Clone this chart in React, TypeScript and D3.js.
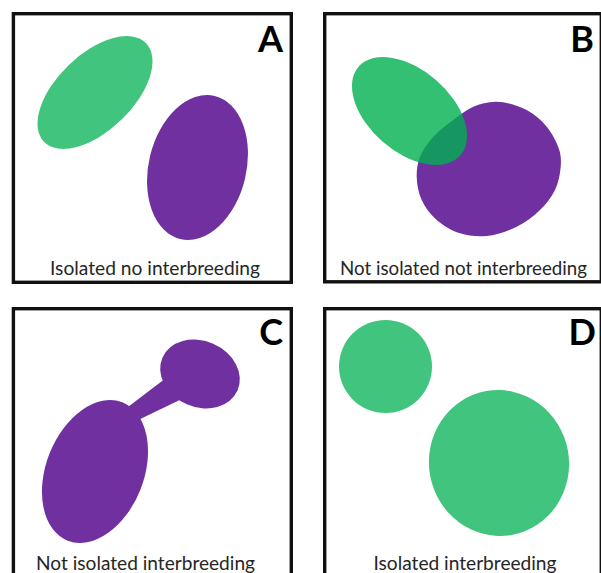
import React, { useEffect, useRef } from 'react'
import * as d3 from 'd3'

const W = 601
const H = 573

// panels: outer box edges [x0, y0, x1, y1]
const panelLetters = ['A', 'B', 'C', 'D']
const panelCaptions = [
  'Isolated no interbreeding',
  'Not isolated not interbreeding',
  'Not isolated interbreeding',
  'Isolated interbreeding',
]
const panelBoxes = [
  [11.7, 12, 293, 284],
  [323, 12, 603, 283.5],
  [11.7, 307, 293, 583],
  [323, 307, 603, 583],
]
// letter right edge + baseline, caption centre + baseline + width
const letterPos = [[283, 52], [594, 52], [283, 345], [596, 345]]
const captionPos = [[155, 275, 210], [463.5, 275, 247], [145.5, 570, 219], [465, 570, 183]]

// ellipses: [cx, cy, rx, ry, rotation, colour key, panel]
const ellipses: [number, number, number, number, number, string][] = [
  [95, 92.5, 71, 38, -44, 'greenSoft'],
  [197.5, 167.5, 48.8, 73.6, 13.5, 'purple'],
  [95, 471.5, 48.9, 74.4, 21.5, 'purple'],
  [200, 374, 41, 33, 23.5, 'purple'],
  [385.5, 366.5, 46.5, 46.5, 0, 'greenSoft'],
  [499, 463, 70, 73, -10, 'greenSoft'],
]
// B: irregular purple blob outline
const blobX = [496.7, 526.7, 546.7, 559.3, 560.7, 555, 540, 516.7, 486.7, 460, 436.7, 421.7, 416.7, 420, 433.3, 453.3, 473.3]
const blobY = [101.7, 110, 126.7, 150, 166.7, 190, 210, 226.7, 236, 233.3, 220, 200, 176.7, 156.7, 136.7, 120, 106.7]
// B: green ellipse drawn over the blob
const overlapEllipse = [409.5, 111, 67.5, 40.8, 41]
// C: neck joining the two purple ellipses
const neckX = [120, 170, 188, 132]
const neckY = [413.1, 375.1, 396.1, 423]

const colours: Record<string, string> = {
  purple: '#7030A0',
  greenSoft: '#41C47D',
  green: '#00B050',
}

const App = () => {
  const svgRef = useRef<SVGSVGElement>(null)

  useEffect(() => {
    document.body.style.margin = '0'
    const svg = d3.select(svgRef.current)
    svg.selectAll('*').remove()

    const x = d3.scaleLinear([0, W], [0, W])
    const y = d3.scaleLinear([0, H], [0, H])

    svg.append('rect').attr('width', W).attr('height', H).attr('fill', '#fff')

    // purple shapes first
    const line = d3.line<number>().x((_, i) => x(neckX[i])).y((_, i) => y(neckY[i])).curve(d3.curveLinearClosed)
    svg.append('path').attr('d', line(neckX)).attr('fill', colours.purple)

    svg.selectAll('ellipse.shape')
      .data(ellipses)
      .join('ellipse')
      .attr('class', 'shape')
      .attr('cx', d => x(d[0]))
      .attr('cy', d => y(d[1]))
      .attr('rx', d => d[2])
      .attr('ry', d => d[3])
      .attr('transform', d => `rotate(${d[4]},${x(d[0])},${y(d[1])})`)
      .attr('fill', d => colours[d[5]])

    const blob = d3.line<number>()
      .x((_, i) => x(blobX[i]))
      .y((_, i) => y(blobY[i]))
      .curve(d3.curveCatmullRomClosed.alpha(0.5))
    svg.append('path').attr('d', blob(blobX)).attr('fill', colours.purple)

    const [ocx, ocy, orx, ory, orot] = overlapEllipse
    svg.append('ellipse')
      .attr('cx', x(ocx)).attr('cy', y(ocy))
      .attr('rx', orx).attr('ry', ory)
      .attr('transform', `rotate(${orot},${x(ocx)},${y(ocy)})`)
      .attr('fill', colours.green)
      .attr('fill-opacity', 0.8)

    // boxes
    const sw = 3.4
    svg.selectAll('rect.box')
      .data(panelBoxes)
      .join('rect')
      .attr('class', 'box')
      .attr('x', d => x(d[0]) + sw / 2)
      .attr('y', d => y(d[1]) + sw / 2)
      .attr('width', d => x(d[2]) - x(d[0]) - sw)
      .attr('height', d => y(d[3]) - y(d[1]) - sw)
      .attr('fill', 'none')
      .attr('stroke', '#111')
      .attr('stroke-width', sw)

    svg.selectAll('text.letter')
      .data(panelLetters)
      .join('text')
      .attr('class', 'letter')
      .attr('x', (_, i) => x(letterPos[i][0]))
      .attr('y', (_, i) => y(letterPos[i][1]))
      .attr('text-anchor', 'end')
      .attr('font-family', 'Lato, sans-serif')
      .attr('font-weight', 700)
      .attr('font-size', 36)
      .attr('fill', '#000')
      .text(d => d)

    svg.selectAll('text.caption')
      .data(panelCaptions)
      .join('text')
      .attr('class', 'caption')
      .attr('x', (_, i) => x(captionPos[i][0] - captionPos[i][2] / 2))
      .attr('y', (_, i) => y(captionPos[i][1]))
      .attr('textLength', (_, i) => captionPos[i][2])
      .attr('lengthAdjust', 'spacingAndGlyphs')
      .attr('font-family', 'Lato, sans-serif')
      .attr('font-size', 18.5)
      .attr('fill', '#262626')
      .text(d => d)
  }, [])

  return <svg ref={svgRef} width={W} height={H} style={{ display: 'block' }}></svg>
}

export default App
